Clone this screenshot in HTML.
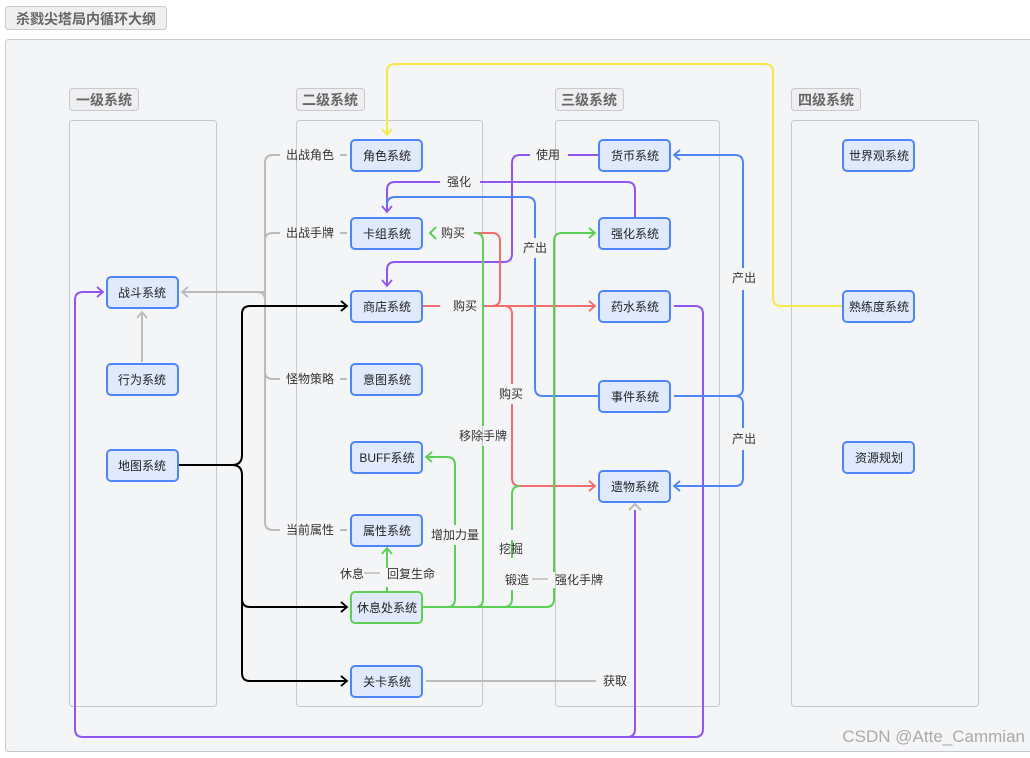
<!DOCTYPE html>
<html><head><meta charset="utf-8"><style>
html,body{margin:0;padding:0;background:#fff;}
svg text{font-family:"Liberation Sans","Noto Sans CJK SC",sans-serif;}
</style></head><body>
<svg width="1030" height="753" viewBox="0 0 1030 753" xmlns="http://www.w3.org/2000/svg">
<defs>
<marker id="ag" markerWidth="10" markerHeight="12" refX="8" refY="6" orient="auto" markerUnits="userSpaceOnUse"><path d="M2,1 L8,6 L2,11" fill="none" stroke="#bbb" stroke-width="1.8"/></marker>
<marker id="ak" markerWidth="10" markerHeight="12" refX="8" refY="6" orient="auto" markerUnits="userSpaceOnUse"><path d="M2,1 L8,6 L2,11" fill="none" stroke="#000" stroke-width="1.8"/></marker>
<marker id="ay" markerWidth="10" markerHeight="12" refX="8" refY="6" orient="auto" markerUnits="userSpaceOnUse"><path d="M2,1 L8,6 L2,11" fill="none" stroke="#f5e84a" stroke-width="1.8"/></marker>
<marker id="ap" markerWidth="10" markerHeight="12" refX="8" refY="6" orient="auto" markerUnits="userSpaceOnUse"><path d="M2,1 L8,6 L2,11" fill="none" stroke="#9256f0" stroke-width="1.8"/></marker>
<marker id="ab" markerWidth="10" markerHeight="12" refX="8" refY="6" orient="auto" markerUnits="userSpaceOnUse"><path d="M2,1 L8,6 L2,11" fill="none" stroke="#4f86f7" stroke-width="1.8"/></marker>
<marker id="agr" markerWidth="10" markerHeight="12" refX="8" refY="6" orient="auto" markerUnits="userSpaceOnUse"><path d="M2,1 L8,6 L2,11" fill="none" stroke="#5ecf55" stroke-width="1.8"/></marker>
<marker id="ar" markerWidth="10" markerHeight="12" refX="8" refY="6" orient="auto" markerUnits="userSpaceOnUse"><path d="M2,1 L8,6 L2,11" fill="none" stroke="#f26d6d" stroke-width="1.8"/></marker>
</defs>
<rect width="1030" height="753" fill="#fff"/>
<rect x="5.5" y="6.5" width="161" height="23" rx="3" fill="#eeeff1" stroke="#c8c9cc"/>
<text x="86" y="24" font-size="14" font-weight="bold" fill="#666" text-anchor="middle">杀戮尖塔局内循环大纲</text>
<rect x="5.5" y="39.5" width="1030" height="712" rx="3" fill="#f4f5f7" stroke="#c8c9cc"/>

<g fill="#eeeff1" stroke="#c8c9cc">
<rect x="69.5" y="88.5" width="69" height="22" rx="3"/>
<rect x="296.5" y="88.5" width="68" height="22" rx="3"/>
<rect x="555.5" y="88.5" width="68" height="22" rx="3"/>
<rect x="791.5" y="88.5" width="69" height="22" rx="3"/>
</g>
<g font-size="14" font-weight="bold" fill="#666" text-anchor="middle">
<text x="104" y="105">一级系统</text><text x="330" y="105">二级系统</text><text x="589" y="105">三级系统</text><text x="826" y="105">四级系统</text>
</g>
<g fill="none" stroke="#c8c9cc">
<rect x="69.5" y="120.5" width="147" height="586" rx="3"/>
<rect x="296.5" y="120.5" width="186" height="586" rx="3"/>
<rect x="555.5" y="120.5" width="164" height="586" rx="3"/>
<rect x="791.5" y="120.5" width="187" height="586" rx="3"/>
</g>

<g fill="none" stroke-width="2">
<g stroke="#bbb">
<path d="M265,292 L182,292" marker-end="url(#ag)"/>
<path d="M265,292 L265,163 Q265,155 273,155 L280,155"/>
<path d="M265,240 Q265,233 273,233 L280,233"/>
<path d="M265,292 L265,522 Q265,530 273,530 L280,530"/>
<path d="M265,372 Q265,379 273,379 L280,379"/>
<path d="M257,292 Q265,292 265,300"/>
<path d="M340,155 L347,155 M340,233 L347,233 M340,379 L347,379 M340,530 L347,530"/>
<path d="M142,362 L142,312" marker-end="url(#ag)"/>
<path d="M426,681 L596,681"/>
<path d="M629,510 L635,504 L641,510"/>
</g>
<g stroke="#000">
<path d="M178,465 L232,465 Q242,465 242,455 L242,314 Q242,306 250,306 L347,306" marker-end="url(#ak)"/>
<path d="M232,465 Q242,465 242,475 L242,599 Q242,607 250,607 L347,607" marker-end="url(#ak)"/>
<path d="M242,600 L242,673 Q242,681 250,681 L347,681" marker-end="url(#ak)"/>
</g>
<path stroke="#f5e84a" d="M843,306 L781,306 Q773,306 773,298 L773,72 Q773,64 765,64 L395,64 Q387,64 387,72 L387,135" marker-end="url(#ay)"/>
<g stroke="#9256f0">
<path d="M635,248 L635,190 Q635,182 627,182 L480,182 M440,182 L395,182 Q387,182 387,190 L387,212" marker-end="url(#ap)"/>
<path d="M599,155 L568,155 M530,155 L520,155 Q512,155 512,163 L512,254 Q512,262 504,262 L395,262 Q387,262 387,270 L387,286" marker-end="url(#ap)"/>
<path d="M674,306 L695,306 Q703,306 703,314 L703,729 Q703,737 695,737 L83,737 Q75,737 75,729 L75,300 Q75,292 83,292 L103,292" marker-end="url(#ap)"/>
<path d="M627,737 Q635,737 635,729 L635,510"/>
</g>
<g stroke="#4f86f7">
<path d="M599,396 L543,396 Q535,396 535,388 L535,258 M535,238 L535,205 Q535,197 527,197 L395,197 Q387,197 387,205"/>
<path d="M674,396 L735,396 Q743,396 743,388 L743,290 M743,268 L743,163 Q743,155 735,155 L674,155" marker-end="url(#ab)"/>
<path d="M735,396 Q743,396 743,404 L743,428 M743,450 L743,478 Q743,486 735,486 L674,486" marker-end="url(#ab)"/>
</g>
<g stroke="#f26d6d">
<path d="M422,306 L440,306 M482,306 L595,306" marker-end="url(#ar)"/>
<path d="M492,306 Q500,306 500,298 L500,241 Q500,233 492,233 L474,233"/>
<path d="M504,306 Q512,306 512,314 L512,384 M512,404 L512,478 Q512,486 520,486 L595,486" marker-end="url(#ar)"/>
</g>
<g stroke="#5ecf55">
<path d="M422,607 L546,607 Q554,607 554,599 L554,588 M554,572 L554,241 Q554,233 562,233 L595,233" marker-end="url(#agr)"/>
<path d="M447,607 Q455,607 455,599 L455,545 M455,525 L455,465 Q455,457 447,457 L426,457" marker-end="url(#agr)"/>
<path d="M475,607 Q483,607 483,599 L483,446 M483,426 L483,241 Q483,233 475,233 L474,233"/>
<path d="M504,607 Q512,607 512,599 L512,590 M512,558 L512,540 M512,530 L512,494 Q512,486 520,486"/>
<path d="M387,591 L387,587 M387,568 L387,548" marker-end="url(#agr)"/>
<path d="M436,227 L430,233 L436,239"/>
</g>
</g>
<g stroke="#bbb" stroke-width="1.5"><path d="M364,573 L380,573 M532,579 L548,579"/></g>

<g font-size="12" fill="#333" text-anchor="middle">
<text x="310" y="159">出战角色</text><text x="310" y="237">出战手牌</text><text x="310" y="383">怪物策略</text><text x="310" y="534">当前属性</text>
<text x="459" y="186">强化</text><text x="548" y="159">使用</text><text x="453" y="237">购买</text><text x="465" y="310">购买</text>
<text x="535" y="252">产出</text><text x="744" y="282">产出</text><text x="744" y="443">产出</text>
<text x="511" y="398">购买</text><text x="483" y="440">移除手牌</text><text x="455" y="539">增加力量</text>
<text x="511" y="553">挖掘</text><text x="517" y="584">锻造</text><text x="579" y="584">强化手牌</text>
<text x="352" y="578">休息</text><text x="411" y="578">回复生命</text><text x="615" y="685">获取</text>
</g>

<g fill="#e1eafd" stroke="#4f86f7" stroke-width="2">
<rect x="107" y="277" width="71" height="31" rx="4"/>
<rect x="107" y="364" width="71" height="31" rx="4"/>
<rect x="107" y="450" width="71" height="31" rx="4"/>
<rect x="351" y="140" width="71" height="31" rx="4"/>
<rect x="351" y="218" width="71" height="31" rx="4"/>
<rect x="351" y="291" width="71" height="31" rx="4"/>
<rect x="351" y="364" width="71" height="31" rx="4"/>
<rect x="351" y="442" width="71" height="31" rx="4"/>
<rect x="351" y="515" width="71" height="31" rx="4"/>
<rect x="351" y="592" width="71" height="31" rx="4" stroke="#5ecf55"/>
<rect x="351" y="666" width="71" height="31" rx="4"/>
<rect x="599" y="140" width="71" height="31" rx="4"/>
<rect x="599" y="218" width="71" height="31" rx="4"/>
<rect x="599" y="291" width="71" height="31" rx="4"/>
<rect x="599" y="381" width="71" height="31" rx="4"/>
<rect x="599" y="471" width="71" height="31" rx="4"/>
<rect x="843" y="140" width="71" height="31" rx="4"/>
<rect x="843" y="291" width="71" height="31" rx="4"/>
<rect x="843" y="442" width="71" height="31" rx="4"/>
</g>
<g font-size="12" fill="#222" text-anchor="middle">
<text x="142" y="297">战斗系统</text><text x="142" y="384">行为系统</text><text x="142" y="470">地图系统</text>
<text x="387" y="160">角色系统</text><text x="387" y="238">卡组系统</text><text x="387" y="311">商店系统</text><text x="387" y="384">意图系统</text>
<text x="387" y="462">BUFF系统</text><text x="387" y="535">属性系统</text><text x="387" y="612">休息处系统</text><text x="387" y="686">关卡系统</text>
<text x="635" y="160">货币系统</text><text x="635" y="238">强化系统</text><text x="635" y="311">药水系统</text><text x="635" y="401">事件系统</text><text x="635" y="491">遗物系统</text>
<text x="879" y="160">世界观系统</text><text x="879" y="311">熟练度系统</text><text x="879" y="462">资源规划</text>
</g>
<text x="1025" y="742" font-size="17" fill="#aaa" text-anchor="end">CSDN @Atte_Cammian</text>
</svg>
</body></html>
